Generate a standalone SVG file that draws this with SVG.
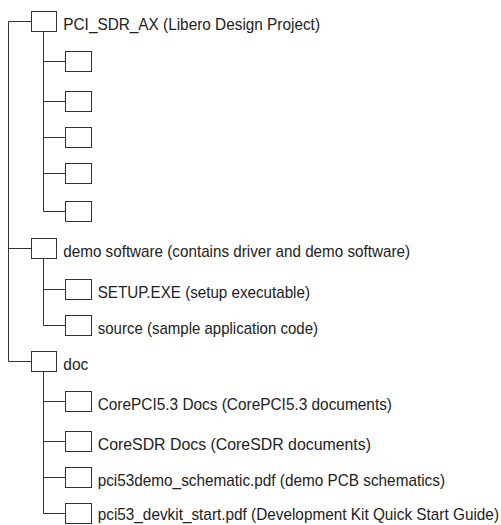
<svg xmlns="http://www.w3.org/2000/svg" width="501" height="525" viewBox="0 0 501 525">
<style>
.box{fill:#fff;stroke:#333;stroke-width:1}
.ln{stroke:#333;stroke-width:1;fill:none}
.t{font-family:"Liberation Sans",Arial,Helvetica,sans-serif;font-size:17px;fill:#222}
</style>
<rect width="501" height="525" fill="#fff"/>
<g id="connectors">
<path class="ln" d="M8.5 21.5V361.5M8.5 21.5H31.5M8.5 248.5H31.5M8.5 361.5H31.5"/>
<path class="ln" d="M43.5 31.5V211.5M43.5 61.5H65.5M43.5 101.5H65.5M43.5 137.5H65.5M43.5 173.5H65.5M43.5 211.5H65.5"/>
<path class="ln" d="M43.5 258.5V325.5M43.5 289.5H65.5M43.5 325.5H65.5"/>
<path class="ln" d="M43.5 371.5V513.5M43.5 401.5H65.5M43.5 441.5H65.5M43.5 477.5H65.5M43.5 513.5H65.5"/>
</g>
<g id="pci_sdr_ax"><rect class="box" x="31.5" y="11.5" width="25" height="20"/><text class="t" x="63.3" y="29.5" textLength="256.7" lengthAdjust="spacingAndGlyphs">PCI_SDR_AX (Libero Design Project)</text></g>
<g id="ax1"><rect class="box" x="65.5" y="51.5" width="26" height="20"/></g>
<g id="ax2"><rect class="box" x="65.5" y="91.5" width="26" height="20"/></g>
<g id="ax3"><rect class="box" x="65.5" y="127.5" width="26" height="20"/></g>
<g id="ax4"><rect class="box" x="65.5" y="163.5" width="26" height="20"/></g>
<g id="ax5"><rect class="box" x="65.5" y="201.5" width="26" height="20"/></g>
<g id="demo"><rect class="box" x="31.5" y="238.5" width="25" height="20"/><text class="t" x="63.3" y="257" textLength="346.7" lengthAdjust="spacingAndGlyphs">demo software (contains driver and demo software)</text></g>
<g id="setup"><rect class="box" x="65.5" y="279.5" width="26" height="20"/><text class="t" x="97.7" y="297.5" textLength="212.3" lengthAdjust="spacingAndGlyphs">SETUP.EXE (setup executable)</text></g>
<g id="source"><rect class="box" x="65.5" y="315.5" width="26" height="20"/><text class="t" x="97.7" y="333.5" textLength="220.3" lengthAdjust="spacingAndGlyphs">source (sample application code)</text></g>
<g id="doc"><rect class="box" x="31.5" y="351.5" width="25" height="20"/><text class="t" x="63.3" y="370" textLength="25" lengthAdjust="spacingAndGlyphs">doc</text></g>
<g id="corepci"><rect class="box" x="65.5" y="391.5" width="26" height="20"/><text class="t" x="97.7" y="409.5" textLength="294.3" lengthAdjust="spacingAndGlyphs">CorePCI5.3 Docs (CorePCI5.3 documents)</text></g>
<g id="coresdr"><rect class="box" x="65.5" y="431.5" width="26" height="20"/><text class="t" x="97.7" y="450" textLength="273.3" lengthAdjust="spacingAndGlyphs">CoreSDR Docs (CoreSDR documents)</text></g>
<g id="schematic"><rect class="box" x="65.5" y="467.5" width="26" height="20"/><text class="t" x="97.7" y="485.5" textLength="347.3" lengthAdjust="spacingAndGlyphs">pci53demo_schematic.pdf (demo PCB schematics)</text></g>
<g id="devkit"><rect class="box" x="65.5" y="503.5" width="26" height="20"/><text class="t" x="97.7" y="519.5" textLength="401.3" lengthAdjust="spacingAndGlyphs">pci53_devkit_start.pdf (Development Kit Quick Start Guide)</text></g>
</svg>
